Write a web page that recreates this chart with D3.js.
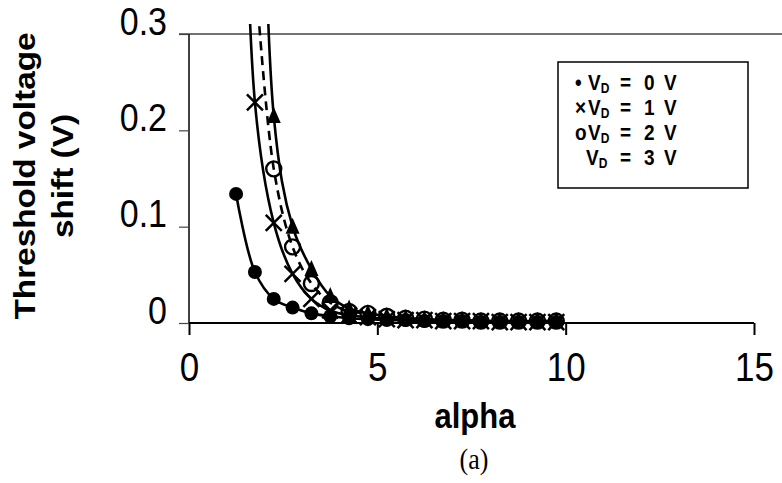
<!DOCTYPE html>
<html>
<head>
<meta charset="utf-8">
<script src="https://cdn.jsdelivr.net/npm/d3@7"></script>
<style>
  html, body { margin: 0; padding: 0; background: #fff; }
  svg { display: block; }
</style>
</head>
<body>
<svg id="chart" width="782" height="483"></svg>
<script>
// alpha values shared by every series
const alphaValues = [1.25, 1.75, 2.25, 2.75, 3.25, 3.75, 4.25, 4.75, 5.25, 5.75, 6.25, 6.75, 7.25, 7.75, 8.25, 8.75, 9.25, 9.75];

// threshold voltage shift (V) for each drain voltage; null = not measured
const shiftVd0 = [0.134, 0.053, 0.025, 0.016, 0.010, 0.007, 0.005, 0.004, 0.003, 0.003, 0.002, 0.002, 0.002, 0.001, 0.001, 0.001, 0.001, 0.001];
const shiftVd1 = [1.0, 0.229, 0.104, 0.051, 0.025, 0.013, 0.008, 0.006, 0.004, 0.003, 0.003, 0.002, 0.002, 0.002, 0.001, 0.001, 0.001, 0.001];
const shiftVd2 = [null, 0.37, 0.160, 0.079, 0.041, 0.021, 0.012, 0.010, 0.007, 0.005, 0.004, 0.003, 0.003, 0.002, 0.002, 0.002, 0.002, 0.002];
const shiftVd3 = [null, 1.2, 0.215, 0.100, 0.056, 0.028, 0.015, 0.010, 0.007, 0.005, 0.004, 0.003, 0.003, 0.002, 0.002, 0.002, 0.002, 0.002];

const xTicks = [0, 5, 10, 15];
const yTicks = [0, 0.1, 0.2, 0.3];
const legendValues = ["0", "1", "2", "3"];
const legendSymbols = ["\u2022", "\u00d7", "o", ""];

const svg = d3.select("#chart");
const sans = "'Liberation Sans', Arial, Helvetica, sans-serif";
const stretch = 1.15; // glyphs are drawn slightly taller than wide

const x = d3.scaleLinear().domain([0, 15]).range([189, 754]);
const y = d3.scaleLinear().domain([0, 0.3]).range([323, 34]);

// top boundary line at 0.3
svg.append("line")
  .attr("x1", x(0) - 10).attr("x2", 782)
  .attr("y1", y(0.3)).attr("y2", y(0.3))
  .attr("stroke", "#444").attr("stroke-width", 1.5);

// axes
const xAxis = svg.append("g")
  .attr("transform", `translate(0,${y(0)})`)
  .call(d3.axisBottom(x).tickValues(xTicks).tickSize(12).tickFormat(d3.format("d")));
const yAxis = svg.append("g")
  .attr("transform", `translate(${x(0)},0)`)
  .call(d3.axisLeft(y).tickValues(yTicks).tickSize(10).tickFormat(d => d === 0 ? "0" : d3.format(".1f")(d)));

xAxis.select(".domain").attr("stroke", "#000").attr("stroke-width", 2).attr("d", `M${x(0)},0H${x(15)}`);
yAxis.select(".domain").attr("stroke", "#000").attr("stroke-width", 1.5).attr("d", `M0,${y(0)}V${y(0.3)}`);
xAxis.selectAll(".tick line").attr("stroke", "#000").attr("stroke-width", 2);
yAxis.selectAll(".tick line").attr("stroke", "#444").attr("stroke-width", 1.2);

xAxis.selectAll(".tick text")
  .attr("font-family", sans).attr("font-size", 35).attr("fill", "#000")
  .attr("y", 58 / stretch).attr("dy", null)
  .attr("transform", `scale(1,${stretch})`);
yAxis.selectAll(".tick text")
  .attr("font-family", sans).attr("font-size", 34).attr("fill", "#000")
  .attr("x", -22).attr("y", 0).attr("dy", null)
  .attr("transform", `scale(1,${stretch})`);

// axis titles
svg.append("text")
  .attr("transform", `translate(475,428) scale(1,${stretch})`)
  .attr("text-anchor", "middle")
  .attr("font-family", sans).attr("font-weight", "bold").attr("font-size", 31)
  .text("alpha");

const yTitle = svg.append("text")
  .attr("transform", `translate(0,176) scale(1,${stretch}) rotate(-90)`)
  .attr("text-anchor", "middle")
  .attr("font-family", sans).attr("font-weight", "bold").attr("font-size", 29);
yTitle.append("tspan").attr("x", 0).attr("y", 35).text("Threshold voltage");
yTitle.append("tspan").attr("x", 0).attr("y", 73).text("shift (V)");

svg.append("text")
  .attr("transform", `translate(474,469) scale(1,${stretch})`)
  .attr("text-anchor", "middle")
  .attr("font-family", "'Liberation Serif', 'Times New Roman', serif").attr("font-size", 26)
  .text("(a)");

// data series
svg.append("defs").append("clipPath").attr("id", "plotClip")
  .append("rect").attr("x", x(0)).attr("y", 24).attr("width", x(15) - x(0)).attr("height", y(0) - 24 + 20);

const plot = svg.append("g").attr("clip-path", "url(#plotClip)");

const series = [
  { key: "vd0", values: shiftVd0, dash: null, marker: "dot" },
  { key: "vd1", values: shiftVd1, dash: null, marker: "cross" },
  { key: "vd2", values: shiftVd2, dash: "9,6", marker: "ring" },
  { key: "vd3", values: shiftVd3, dash: null, marker: "triangle" }
];

const line = d3.line()
  .defined(d => d.v !== null)
  .x(d => x(d.a))
  .y(d => y(d.v))
  .curve(d3.curveCatmullRom.alpha(0.5));

series.forEach(s => {
  const pts = alphaValues.map((a, i) => ({ a, v: s.values[i] }));
  plot.append("path")
    .datum(pts)
    .attr("fill", "none")
    .attr("stroke", "#000")
    .attr("stroke-width", 2.6)
    .attr("stroke-dasharray", s.dash)
    .attr("d", line);

  const valid = pts.filter(d => d.v !== null);
  const g = plot.append("g");
  if (s.marker === "dot") {
    g.selectAll("circle").data(valid).join("circle")
      .attr("cx", d => x(d.a)).attr("cy", d => y(d.v)).attr("r", 7).attr("fill", "#000");
  } else if (s.marker === "cross") {
    g.selectAll("path").data(valid).join("path")
      .attr("transform", d => `translate(${x(d.a)},${y(d.v)})`)
      .attr("d", "M-8,-8L8,8M-8,8L8,-8")
      .attr("stroke", "#000").attr("stroke-width", 2.5).attr("fill", "none");
  } else if (s.marker === "ring") {
    g.selectAll("circle").data(valid).join("circle")
      .attr("cx", d => x(d.a)).attr("cy", d => y(d.v)).attr("r", 7.5)
      .attr("fill", "none").attr("stroke", "#000").attr("stroke-width", 2.4);
  } else {
    g.selectAll("path").data(valid).join("path")
      .attr("transform", d => `translate(${x(d.a)},${y(d.v)})`)
      .attr("d", "M0,-9L7,7L-7,7Z")
      .attr("fill", "#000");
  }
});

// legend
const lg = svg.append("g").attr("transform", "translate(558,62)");
lg.append("rect").attr("width", 190).attr("height", 126)
  .attr("fill", "#fff").attr("stroke", "#000").attr("stroke-width", 1.5);
legendValues.forEach((val, i) => {
  const row = lg.append("g")
    .attr("transform", `translate(0,${28 + i * 25}) scale(1,${stretch})`)
    .attr("font-family", sans).attr("font-size", 19).attr("font-weight", "bold");
  if (legendSymbols[i]) row.append("text").attr("x", 17).text(legendSymbols[i]);
  const v = row.append("text").attr("x", i === 3 ? 28 : 30);
  v.append("tspan").text("V");
  v.append("tspan").attr("font-size", 12).attr("dy", 3).text("D");
  row.append("text").attr("x", 62).text("=");
  row.append("text").attr("x", 86).text(val);
  row.append("text").attr("x", 106).text("V");
});
</script>
</body>
</html>
